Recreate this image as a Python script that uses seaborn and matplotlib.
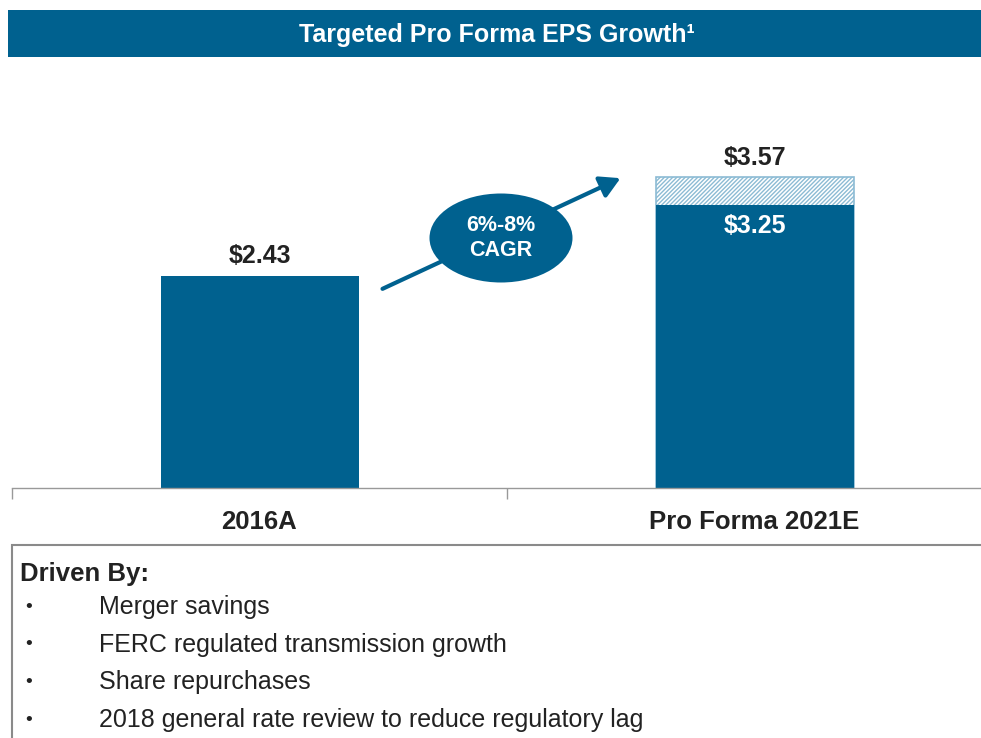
import pandas as pd
import seaborn as sns
import matplotlib.pyplot as plt
from matplotlib.patches import Rectangle, Ellipse, FancyArrowPatch

# data
categories = ['2016A', 'Pro Forma 2021E']
base_eps = [2.43, 3.25]
target_eps = [None, 3.57]
title = 'Targeted Pro Forma EPS Growth\u00b9'
cagr_text = '6%-8%\nCAGR'
drivers = ['Merger savings',
           'FERC regulated transmission growth',
           'Share repurchases',
           '2018 general rate review to reduce regulatory lag']

blue = '#00618f'
hatch_col = '#8cbbd4'
W, H = 981, 738

sns.set_style('white')
plt.rcParams['font.family'] = ['Liberation Sans', 'DejaVu Sans']
plt.rcParams['hatch.linewidth'] = 1.0

fig = plt.figure(figsize=(W / 100, H / 100), dpi=100)


def fx(px):
    return px / W


def fy(py):
    return 1 - py / H


# axes: x from -0.5 at px 12, 495 px per category; y baseline px 488
ax = fig.add_axes([fx(12), fy(488), 2 * 495 / W, 4 * 87.1 / H])

df_top = pd.DataFrame({'cat': categories, 'eps': target_eps}).dropna()
df_base = pd.DataFrame({'cat': categories, 'eps': base_eps})

sns.barplot(data=df_top, x='cat', y='eps', order=categories, ax=ax,
            color='white', saturation=1, width=0.4, hatch='////////',
            edgecolor=hatch_col, linewidth=1.2)
sns.barplot(data=df_base, x='cat', y='eps', order=categories, ax=ax,
            color=blue, saturation=1, width=0.4, linewidth=0)
for p in ax.patches:
    if p.get_hatch():
        p.set_edgecolor(hatch_col)

ax.set_xlim(-0.5, 1.5)
ax.set_ylim(0, 4)
ax.set_xlabel('')
ax.set_ylabel('')
ax.set_yticks([])
ax.set_xticks([0, 1])
ax.set_xticklabels(categories, fontsize=18.5, fontweight='bold', color='#222222')
ax.set_xticks([-0.5, 0.5, 1.5], minor=True)
ax.tick_params(axis='x', which='major', length=0, pad=16)
ax.tick_params(axis='x', which='minor', length=8, width=1, color='#999999',
               direction='out', bottom=True)
for s in ['top', 'right', 'left']:
    ax.spines[s].set_visible(False)
ax.spines['bottom'].set_color('#999999')
ax.spines['bottom'].set_linewidth(1)

# value labels
ax.text(0, base_eps[0] + 0.1, '$%.2f' % base_eps[0], ha='center', va='bottom',
        fontsize=18, fontweight='bold', color='#222222')
ax.text(1, target_eps[1] + 0.08, '$%.2f' % target_eps[1], ha='center', va='bottom',
        fontsize=18, fontweight='bold', color='#222222')
ax.text(1, base_eps[1] - 0.1, '$%.2f' % base_eps[1], ha='center', va='top',
        fontsize=18, fontweight='bold', color='white')

# title bar
fig.patches.append(Rectangle((fx(8), fy(57)), 1 - fx(8), (57 - 10) / H,
                             transform=fig.transFigure, facecolor=blue,
                             edgecolor='none', zorder=0))
fig.text(fx(497), fy(35), title, ha='center', va='center', color='white',
         fontsize=18, fontweight='bold')

# CAGR arrow and ellipse
fig.patches.append(FancyArrowPatch((fx(380), fy(290)), (fx(623), fy(177)),
                                   transform=fig.transFigure,
                                   arrowstyle='-|>,head_length=8,head_width=4.5',
                                   mutation_scale=1.5, color=blue, lw=3, zorder=3))
fig.patches.append(Ellipse((fx(501), fy(238)), 143 / W, 89 / H,
                           transform=fig.transFigure, facecolor=blue,
                           edgecolor='none', zorder=4))
fig.text(fx(501), fy(238), cagr_text, ha='center', va='center', color='white',
         fontsize=15.5, fontweight='bold', linespacing=1.25, zorder=5)

# drivers box
fig.patches.append(Rectangle((fx(12), -0.05), 1.05, fy(545) + 0.05,
                             transform=fig.transFigure, facecolor='white',
                             edgecolor='#8a8a8a', lw=1.5, zorder=1))
fig.text(fx(20), fy(574), 'Driven By:', ha='left', va='center',
         fontsize=18.5, fontweight='bold', color='#222222')
for i, d in enumerate(drivers):
    y = 607 + i * 37.7
    fig.text(fx(25), fy(y), '\u2022', ha='left', va='center', fontsize=14,
             color='#222222')
    fig.text(fx(99), fy(y), d, ha='left', va='center', fontsize=18,
             color='#222222')

fig.savefig('out.png', dpi=100)
